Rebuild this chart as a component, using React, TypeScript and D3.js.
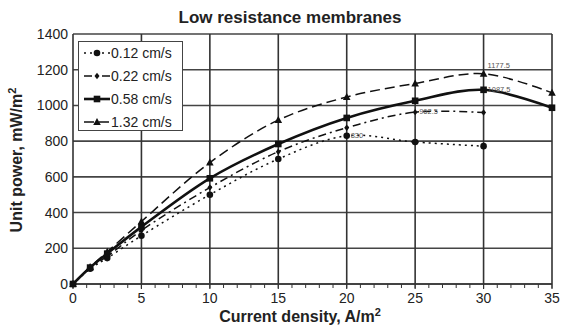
import React from "react";
import * as d3 from "d3";

const title = "Low resistance membranes";
const xTicks = [0, 5, 10, 15, 20, 25, 30, 35];
const yTicks = [0, 200, 400, 600, 800, 1000, 1200, 1400];

const x012 = [0, 1.25, 2.5, 5, 10, 15, 20, 25, 30];
const y012 = [0, 85, 145, 270, 500, 700, 830, 795, 772];
const x022 = [0, 1.25, 2.5, 5, 10, 15, 20, 25, 30];
const y022 = [0, 90, 155, 300, 540, 741, 875, 962.5, 960];
const x058 = [0, 1.25, 2.5, 5, 10, 15, 20, 25, 30, 35];
const y058 = [0, 92, 170, 320, 592, 784, 930, 1026, 1087.5, 987];
const x132 = [0, 1.25, 2.5, 5, 10, 15, 20, 25, 30, 35];
const y132 = [0, 95, 180, 350, 680, 918, 1047, 1123, 1177.5, 1071];

const seriesNames = ["0.12 cm/s", "0.22 cm/s", "0.58 cm/s", "1.32 cm/s"];

const labelXs = [20, 25, 30, 30];
const labelYs = [830, 962.5, 1087.5, 1177.5];
const labelTexts = ["830", "962.5", "1087.5", "1177.5"];

export default function App() {
  const W = 563, H = 327;
  const left = 73, right = 552, top = 34, bottom = 284;
  const x = d3.scaleLinear().domain([0, 35]).range([left, right]);
  const y = d3.scaleLinear().domain([0, 1400]).range([bottom, top]);

  const series = [
    { xs: x012, ys: y012, dash: "2,4", width: 1.5, marker: "circle" },
    { xs: x022, ys: y022, dash: "8,4,2,4", width: 1.5, marker: "diamond" },
    { xs: x058, ys: y058, dash: null, width: 2.6, marker: "square" },
    { xs: x132, ys: y132, dash: "10,5", width: 1.5, marker: "triangle" },
  ];

  const line = d3
    .line<[number, number]>()
    .x((d) => x(d[0]))
    .y((d) => y(d[1]))
    .curve(d3.curveCatmullRom.alpha(0.5));

  const marker = (type: string, cx: number, cy: number, key: any) => {
    if (type === "circle") return <circle key={key} cx={cx} cy={cy} r={3.3} fill="#111" />;
    if (type === "square")
      return <rect key={key} x={cx - 3.3} y={cy - 3.3} width={6.6} height={6.6} fill="#111" />;
    if (type === "diamond")
      return (
        <path key={key} d={`M${cx},${cy - 3.2}L${cx + 2.5},${cy}L${cx},${cy + 3.2}L${cx - 2.5},${cy}Z`} fill="#111" />
      );
    return <path key={key} d={`M${cx},${cy - 4}L${cx + 3.8},${cy + 3}L${cx - 3.8},${cy + 3}Z`} fill="#111" />;
  };

  const minor = d3.range(0, 36, 1);

  return (
    <svg width={W} height={H} style={{ position: "absolute", left: 0, top: 0 }} fontFamily="Liberation Sans, Arial, sans-serif">
      <rect width={W} height={H} fill="#fff" />
      <text x={290} y={23} textAnchor="middle" fontSize={17} fontWeight="bold" fill="#222">
        {title}
      </text>
      {/* grid */}
      {yTicks.map((t) => (
        <line key={"gy" + t} x1={left} x2={right} y1={y(t)} y2={y(t)} stroke="#444" strokeWidth={1.6} />
      ))}
      {xTicks.map((t) => (
        <line key={"gx" + t} x1={x(t)} x2={x(t)} y1={top} y2={bottom} stroke="#333" strokeWidth={1.6} />
      ))}
      {minor.map((t) => (
        <line key={"mt" + t} x1={x(t)} x2={x(t)} y1={bottom} y2={bottom + 4} stroke="#333" strokeWidth={1} />
      ))}
      {xTicks.map((t) => (
        <line key={"xt" + t} x1={x(t)} x2={x(t)} y1={bottom} y2={bottom + 5} stroke="#333" strokeWidth={1.2} />
      ))}
      <line x1={left} x2={right} y1={bottom} y2={bottom} stroke="#333" strokeWidth={1.6} />
      {/* tick labels */}
      {yTicks.map((t) => (
        <text key={"yl" + t} x={68} y={y(t) + 5} textAnchor="end" fontSize={14} fill="#222">
          {t}
        </text>
      ))}
      {xTicks.map((t) => (
        <text key={"xl" + t} x={x(t)} y={303} textAnchor="middle" fontSize={14} fill="#222">
          {t}
        </text>
      ))}
      <text x={300} y={322} textAnchor="middle" fontSize={16} fontWeight="bold" fill="#222">
        Current density, A/m<tspan dy={-6} fontSize={11}>2</tspan>
      </text>
      <text transform={`translate(22,${160}) rotate(-90)`} textAnchor="middle" fontSize={16} fontWeight="bold" fill="#222">
        Unit power, mW/m<tspan dy={-6} fontSize={11}>2</tspan>
      </text>
      {/* series */}
      {series.map((s, i) => {
        const pts = s.xs.map((v, j) => [v, s.ys[j]] as [number, number]);
        return (
          <g key={"s" + i}>
            <path d={line(pts) || ""} fill="none" stroke="#111" strokeWidth={s.width} strokeDasharray={s.dash || undefined} />
            {pts.map((p, j) => marker(s.marker, x(p[0]), y(p[1]), j))}
          </g>
        );
      })}
      {/* data labels */}
      {labelTexts.map((t, i) => (
        <text key={"dl" + i} x={x(labelXs[i]) + 4} y={y(labelYs[i]) + (i === 3 ? -6 : 2)} fontSize={7.5} fill="#555">
          {t}
        </text>
      ))}
      {/* legend */}
      <rect x={78.5} y={41.5} width={104} height={89} fill="#fff" stroke="#444" strokeWidth={1} />
      {series.map((s, i) => {
        const ly = 53 + i * 23;
        return (
          <g key={"lg" + i}>
            <line x1={84} x2={110} y1={ly} y2={ly} stroke="#111" strokeWidth={s.width} strokeDasharray={s.dash || undefined} />
            {marker(s.marker, 97, ly, "m")}
            <text x={111} y={ly + 5} fontSize={14} fill="#222">
              {seriesNames[i]}
            </text>
          </g>
        );
      })}
    </svg>
  );
}
